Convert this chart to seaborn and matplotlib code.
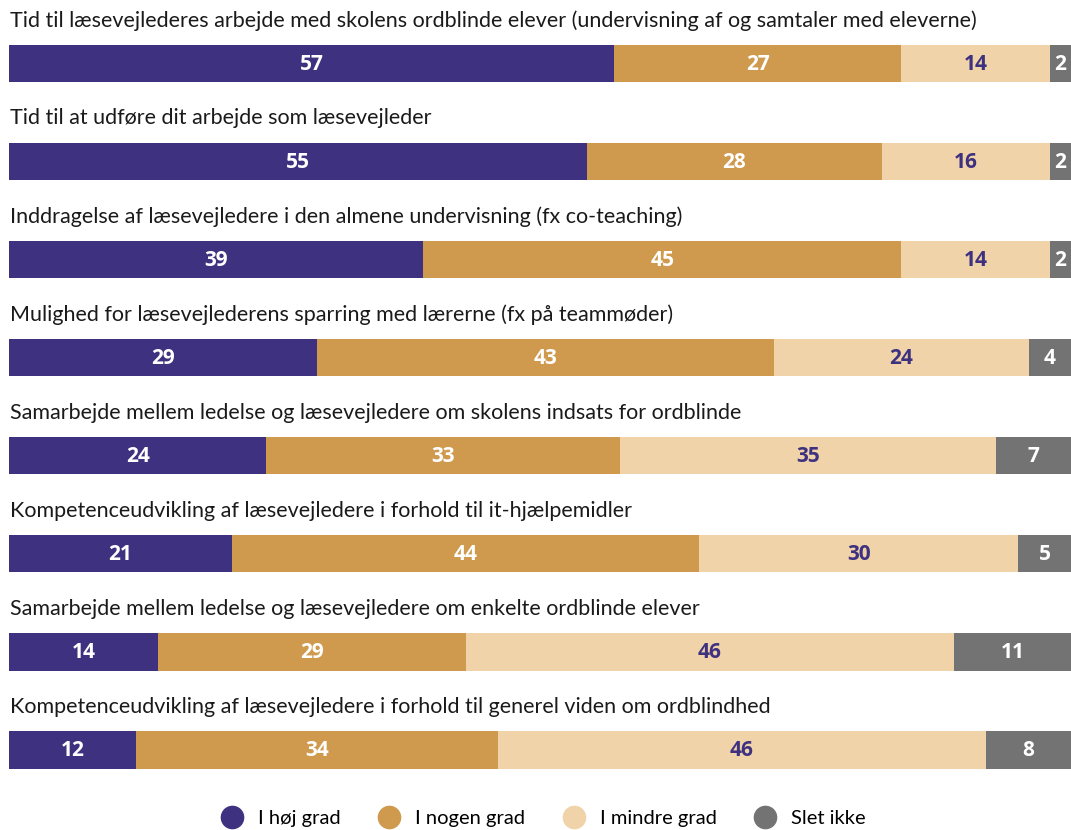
"""
Stacked horizontal bars: læsevejleder survey
"""

import numpy as np
import pandas as pd
import matplotlib.pyplot as plt
import seaborn as sns
from matplotlib.lines import Line2D

questions = [
    "Tid til læsevejlederes arbejde med skolens ordblinde elever (undervisning af og samtaler med eleverne)",
    "Tid til at udføre dit arbejde som læsevejleder",
    "Inddragelse af læsevejledere i den almene undervisning (fx co-teaching)",
    "Mulighed for læsevejlederens sparring med lærerne (fx på teammøder)",
    "Samarbejde mellem ledelse og læsevejledere om skolens indsats for ordblinde",
    "Kompetenceudvikling af læsevejledere i forhold til it-hjælpemidler",
    "Samarbejde mellem ledelse og læsevejledere om enkelte ordblinde elever",
    "Kompetenceudvikling af læsevejledere i forhold til generel viden om ordblindhed",
]
categories = ["I høj grad", "I nogen grad", "I mindre grad", "Slet ikke"]
hoej = [57, 55, 39, 29, 24, 21, 14, 12]
nogen = [27, 28, 45, 43, 33, 44, 29, 34]
mindre = [14, 16, 14, 24, 35, 30, 46, 46]
slet = [2, 2, 2, 4, 7, 5, 11, 8]

colors = ["#3e3180", "#cf9a4e", "#f0d3a8", "#737373"]
text_colors = ["white", "white", "#3e3180", "white"]

plt.rcParams["font.family"] = ["Lato", "DejaVu Sans"]
NUM_FONT = ["Open Sans", "DejaVu Sans"]

vals = np.array([hoej, nogen, mindre, slet], dtype=float)
# rounded values do not always sum to 100, so scale each row to full width
shares = vals / vals.sum(axis=0) * 100
cum = np.cumsum(shares, axis=0)

df = pd.DataFrame({"q": questions})
for k in range(4):
    df[f"cum{k}"] = cum[k]

fig = plt.figure(figsize=(10.71, 8.3), dpi=100)
ax = fig.add_axes([9 / 1071, 1 - 799 / 830, 1 - 9 / 1071, (799 - 14.5) / 830])

# draw from the full total down so each shorter bar covers the previous one
for k in [3, 2, 1, 0]:
    sns.barplot(data=df, x=f"cum{k}", y="q", orient="h", color=colors[k],
                width=0.38, saturation=1, ax=ax, edgecolor="none")

for i in range(len(questions)):
    ax.text(0.1, i - 0.44, questions[i], ha="left", va="center",
            fontsize=15.5, color="#1a1a1a")
    start = 0
    for k in range(4):
        mid = start + shares[k, i] / 2
        ax.text(mid, i + 0.01, f"{int(vals[k, i])}", ha="center", va="center",
                fontsize=15, fontweight="bold", color=text_colors[k],
                family=NUM_FONT)
        start = cum[k, i]

ax.set_xlim(0, 100)
ax.set_ylim(7.5, -0.5)
ax.set_xlabel("")
ax.set_ylabel("")
ax.set_xticks([])
ax.set_yticks([])
for s in ax.spines.values():
    s.set_visible(False)

handles = [Line2D([0], [0], marker="o", linestyle="none", markersize=16,
                  markerfacecolor=c, markeredgecolor=c) for c in colors]
fig.legend(handles, categories, loc="center", bbox_to_anchor=(0.507, 1 - 818 / 830),
           ncol=4, frameon=False, fontsize=14.5, columnspacing=1.8,
           handletextpad=0.7, handlelength=1.2)

plt.savefig("out.png", dpi=100)
plt.close()
